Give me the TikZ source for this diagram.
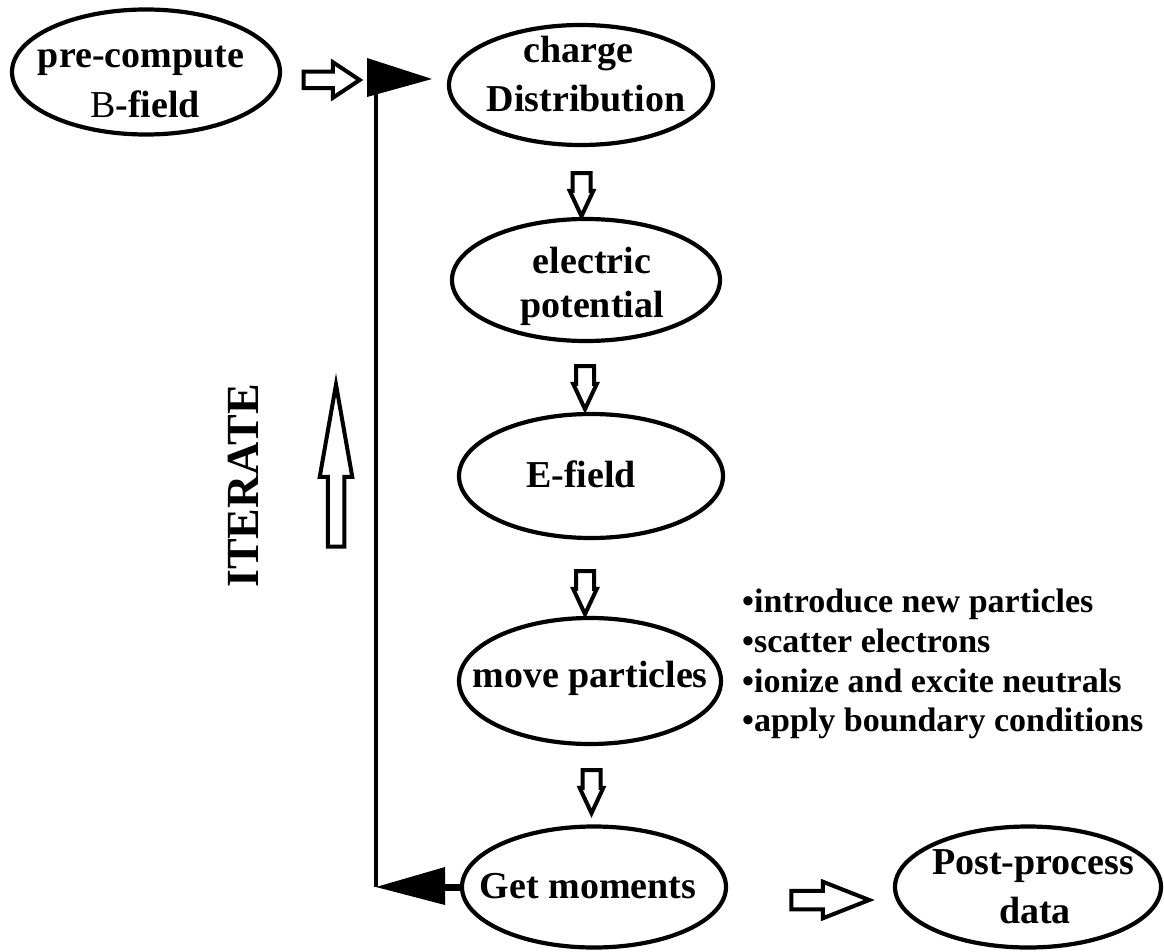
\documentclass[tikz,border=0pt]{standalone}
\usepackage{fontspec}
\setmainfont{Liberation Serif}
\usetikzlibrary{shapes.geometric,shapes.arrows}

\begin{document}
\begin{tikzpicture}[x=1pt,y=-1pt,
  stage/.style={draw, ellipse, line width=4.2pt, inner sep=0pt},
  lbl/.style={anchor=base, inner sep=0pt, font=\fontsize{38}{46}\selectfont\bfseries},
  note/.style={anchor=base west, inner sep=0pt, font=\fontsize{34}{40}\selectfont\bfseries},
  blockarrow/.style={draw, fill=white, line width=4pt, single arrow, inner xsep=0pt},
  downarrow/.style={blockarrow, rotate=-90, inner ysep=7pt, single arrow head extend=2.8pt,
    single arrow tip angle=50, minimum height=43pt},
  loopline/.style={line width=4.5pt}
]
\fill[white] (0,0) rectangle (1164,952);
\useasboundingbox (0,0) rectangle (1164,952);

% process stages
\node[stage, minimum width=268pt, minimum height=125pt] (pre)   at (146,72)  {};
\node[stage, minimum width=264pt, minimum height=120pt] (chg)   at (581,85)  {};
\node[stage, minimum width=268pt, minimum height=122pt] (pot)   at (586,280) {};
\node[stage, minimum width=264pt, minimum height=124pt] (ef)    at (591,476) {};
\node[stage, minimum width=262pt, minimum height=126pt] (move)  at (590,681) {};
\node[stage, minimum width=264pt, minimum height=121pt] (gm)    at (594,887) {};
\node[stage, minimum width=266pt, minimum height=121pt] (post)  at (1028,887) {};

% stage labels
\node[lbl] (pre-a)  at (141,68)  {pre-compute};
\node[lbl] (pre-b)  at (145,118) {{\mdseries B}-field};
\node[lbl] (chg-a)  at (578,63)  {charge};
\node[lbl] (chg-b)  at (586,112) {Distribution};
\node[lbl] (pot-a)  at (592,273) {electric};
\node[lbl] (pot-b)  at (592,317) {potential};
\node[lbl] (ef-a)   at (581,487) {E-field};
\node[lbl] (move-a) at (590,687) {move particles};
\node[lbl] (gm-a)   at (588,898) {Get moments};
\node[lbl] (post-a) at (1033,874) {Post-process};
\node[lbl] (post-b) at (1035,923) {data};

% details of the particle push
\node[note] (n1) at (742,612) {•introduce new particles};
\node[note] (n2) at (742,652) {•scatter electrons};
\node[note] (n3) at (742,692) {•ionize and excite neutrals};
\node[note] (n4) at (742,731) {•apply boundary conditions};

% hollow block arrows between stages
\node[downarrow] (a1) at (581.5,185) {};
\node[downarrow] (a2) at (585,378) {};
\node[downarrow] (a3) at (585,583) {};
\node[downarrow] (a4) at (591.5,782) {};
\node[blockarrow, inner ysep=6.25pt, single arrow head extend=9.5pt,
      single arrow tip angle=67, minimum height=56pt] (ar1) at (325.5,80) {};
\node[blockarrow, inner ysep=7.25pt, single arrow head extend=9pt,
      single arrow tip angle=43, minimum height=78pt] (ar2) at (818.5,900) {};
\node[blockarrow, rotate=90, inner ysep=6.25pt, single arrow head extend=8pt,
      single arrow tip angle=20, minimum height=162pt] (aup) at (336,489) {};

% iteration label
\node[rotate=90, inner sep=0pt, font=\fontsize{46}{46}\selectfont\bfseries] (iter) at (243,486) {ITERATE};

% feedback loop from the moments back to the charge distribution
\coordinate (lb) at (376,887);
\coordinate (lt) at (376,92);
\draw[loopline] (lb) -- (lt);
\fill (lb) -- ++(69,-20) -- ++(0,38) -- cycle;
\draw[line width=7pt] (445,887) -- (gm.west);
\fill (367,58) -- (367,97) -- (432,79) -- cycle;
\end{tikzpicture}
\end{document}
